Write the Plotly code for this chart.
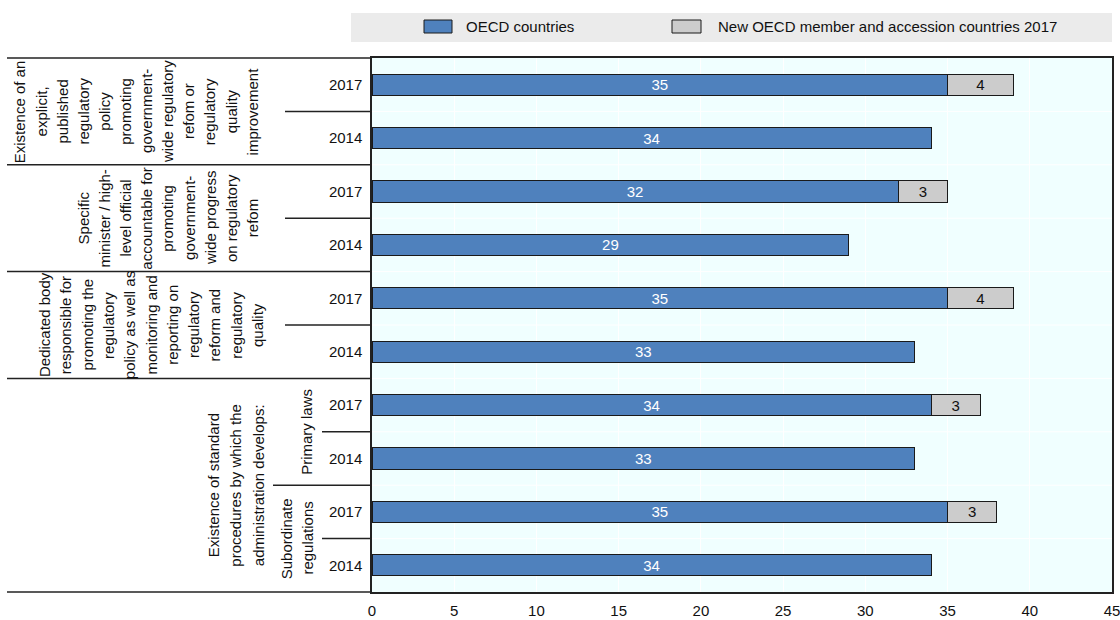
import plotly.graph_objects as go

# ---------------- data ----------------
years = ["2017", "2014"] * 5
oecd_values = [35, 34, 32, 29, 35, 33, 34, 33, 35, 34]
new_member_values = [4, None, 3, None, 4, None, 3, None, 3, None]
series_names = ["OECD countries", "New OECD member and accession countries 2017"]
group_lines = [
    ["Existence of an", "explicit,", "published", "regulatory", "policy", "promoting",
     "government-", "wide regulatory", "refom or", "regulatory", "quality", "improvement"],
    ["Specific", "minister / high-", "level official", "accountable for", "promoting",
     "government-", "wide progress", "on regulatory", "refom"],
    ["Dedicated body", "responsible for", "promoting the", "regulatory", "policy as well as",
     "monitoring and", "reporting on", "regulatory", "reform and", "regulatory", "quality"],
    ["Existence of standard", "procedures by which the", "administration develops:"],
]
group_rows = [(0, 1), (2, 3), (4, 5), (6, 9)]
sub_lines = [["Primary laws"], ["Subordinate", "regulations"]]
sub_rows = [(6, 7), (8, 9)]
x_ticks = [0, 5, 10, 15, 20, 25, 30, 35, 40, 45]

# ---------------- layout helpers ----------------
FONT = "Liberation Sans, Arial, sans-serif"
FS = 15
W, H = 1120, 620
L, R, T, B = 372, 8, 58, 28
PW = W - L - R
PH = H - T - B
n = len(years)
rows = list(range(n))

def px2x(px):
    return (px - L) / PW

def py2y(py):
    return (H - B - py) / PH

def row2y(r):
    return 1 - (r + 0.5) / n

BLUE = "#4F81BD"
GREY = "#CCCCCC"
EDGE = "#1a1a1a"
LINE = "#222222"
TXT = "#111111"

fig = go.Figure()
fig.add_trace(go.Bar(
    y=rows, x=oecd_values, orientation="h", name=series_names[0], width=0.4,
    marker=dict(color=BLUE, line=dict(color=EDGE, width=1)),
    text=[str(v) for v in oecd_values], textposition="inside", insidetextanchor="middle",
    textangle=0, constraintext="none",
    textfont=dict(color="white", size=FS, family=FONT), hoverinfo="skip", showlegend=False))
fig.add_trace(go.Bar(
    y=rows, x=new_member_values, orientation="h", name=series_names[1], width=0.4,
    marker=dict(color=GREY, line=dict(color=EDGE, width=1)),
    text=[str(v) if v is not None else "" for v in new_member_values], textposition="inside",
    insidetextanchor="middle", textangle=0, constraintext="none",
    textfont=dict(color=TXT, size=FS, family=FONT), hoverinfo="skip", showlegend=False))

shapes = []
# white row separators inside plot
for k in range(n - 1):
    yb = row2y(k + 0.5)
    shapes.append(dict(type="line", xref="paper", yref="paper", x0=0, x1=1, y0=yb, y1=yb,
                       line=dict(color="white", width=1), layer="below"))
# left label separators
for r in [-0.5] + [g[1] + 0.5 for g in group_rows]:
    yb = row2y(r)
    shapes.append(dict(type="line", xref="paper", yref="paper", x0=px2x(7), x1=0, y0=yb, y1=yb,
                       line=dict(color=LINE, width=1.5)))
for k in range(0, n, 2):
    yb = row2y(k + 0.5)
    start = 285 if k < group_rows[-1][0] else 322
    shapes.append(dict(type="line", xref="paper", yref="paper", x0=px2x(start), x1=0, y0=yb, y1=yb,
                       line=dict(color=LINE, width=1.5)))
for s in sub_rows[:-1]:
    yb = row2y(s[1] + 0.5)
    shapes.append(dict(type="line", xref="paper", yref="paper", x0=px2x(273), x1=0, y0=yb, y1=yb,
                       line=dict(color=LINE, width=1.5)))

# legend (drawn manually)
shapes.append(dict(type="rect", xref="paper", yref="paper", x0=px2x(351), x1=px2x(1112),
                   y0=py2y(42), y1=py2y(13), fillcolor="#EBEBEB", line=dict(width=0), layer="below"))
leg_swatch = [(424, 452), (672, 701)]
leg_cols = [BLUE, GREY]
for (a, b), c in zip(leg_swatch, leg_cols):
    shapes.append(dict(type="rect", xref="paper", yref="paper", x0=px2x(a), x1=px2x(b),
                       y0=py2y(33), y1=py2y(20), fillcolor=c, line=dict(color=EDGE, width=1)))

annotations = []
leg_text_x = [464, 716]
for name, tx in zip(series_names, leg_text_x):
    annotations.append(dict(xref="paper", yref="paper", x=px2x(tx), y=py2y(27), text=name,
                            showarrow=False, xanchor="left", yanchor="middle",
                            font=dict(size=FS, family=FONT, color=TXT)))

# group labels
group_last_x = [252, 252, 257, 258]
group_spacing = [21.1, 21.1, 21.3, 22.5]
for lines, (r0, r1), lx, sp in zip(group_lines, group_rows, group_last_x, group_spacing):
    yc = row2y((r0 + r1) / 2)
    m = len(lines)
    for i, t in enumerate(lines):
        annotations.append(dict(xref="paper", yref="paper", x=px2x(lx - (m - 1 - i) * sp), y=yc,
                                text=t, showarrow=False, textangle=-90, xanchor="center",
                                yanchor="middle", font=dict(size=FS, family=FONT, color=TXT)))
sub_last_x = [307, 308]
for lines, (r0, r1), lx in zip(sub_lines, sub_rows, sub_last_x):
    yc = row2y((r0 + r1) / 2)
    m = len(lines)
    for i, t in enumerate(lines):
        annotations.append(dict(xref="paper", yref="paper", x=px2x(lx - (m - 1 - i) * 21.3), y=yc,
                                text=t, showarrow=False, textangle=-90, xanchor="center",
                                yanchor="middle", font=dict(size=FS, family=FONT, color=TXT)))

fig.update_layout(
    width=W, height=H, margin=dict(l=L, r=R, t=T, b=B, pad=0, autoexpand=False),
    barmode="stack", bargap=0.6,
    paper_bgcolor="white", plot_bgcolor="#F0FFFF",
    font=dict(family=FONT, size=FS, color=TXT),
    shapes=shapes, annotations=annotations, showlegend=False,
    xaxis=dict(range=[0, 45], tickvals=x_ticks, ticktext=[str(v) for v in x_ticks],
               showgrid=True, gridcolor="white", gridwidth=1, zeroline=False,
               showline=True, mirror=True, linecolor=LINE, linewidth=1.5, ticks="",
               ticklabelstandoff=4, automargin=False, ticklabeloverflow="allow",
               tickfont=dict(size=FS, family=FONT, color=TXT), fixedrange=True),
    yaxis=dict(range=[n - 0.5, -0.5], tickvals=rows, ticktext=years, showgrid=False,
               zeroline=False, showline=True, mirror=True, linecolor=LINE, linewidth=1.5,
               ticks="", ticklabelstandoff=5, automargin=False,
               tickfont=dict(size=FS, family=FONT, color=TXT), fixedrange=True),
)

fig.write_html("out.html", config={"displayModeBar": False},
               post_script="document.body.style.margin='0';document.body.style.overflow='hidden';")
